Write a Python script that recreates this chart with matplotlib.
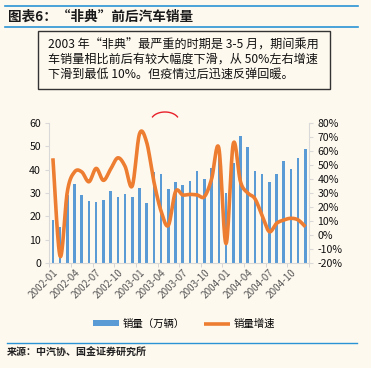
import matplotlib
matplotlib.use('Agg')
import matplotlib.pyplot as plt
import numpy as np
from matplotlib.lines import Line2D
from matplotlib.patches import Rectangle
from matplotlib.ticker import FixedLocator, FuncFormatter

plt.rcParams['font.family'] = ['Noto Sans CJK SC', 'DejaVu Sans']

# ===== 数据 (图中读取) =====
MONTHS = [f'{y}-{m:02d}' for y in (2002, 2003, 2004) for m in range(1, 13)]
SALES = [18.5, 15.6, 29.0, 33.9, 29.2, 26.6, 26.0, 27.0, 30.7, 28.2, 29.4, 28.4,
         32.1, 25.9, 38.8, 38.0, 31.6, 34.7, 33.4, 35.0, 39.4, 35.8, 40.5, 47.0,
         30.2, 43.0, 54.3, 49.6, 39.4, 38.1, 34.6, 38.1, 43.7, 40.4, 45.1, 48.6]
GROWTH = [54.7, -15, 31, 45, 45, 38, 47.5, 39, 47, 55, 49, 35,
          72, 66, 38, 17, 7, 31, 28.6, 29, 28.6, 27.4, 40, 62,
          -6, 65, 38, 30, 26, 14, 2.5, 8.4, 10.8, 12, 10.8, 6]

TITLE = '图表6：“非典”前后汽车销量'
NOTE_LINES = ['2003 年“非典”最严重的时期是 3-5 月，期间乘用',
              '车销量相比前后有较大幅度下滑，从 50%左右增速',
              '下滑到最低 10%。但疫情过后迅速反弹回暖。']
SOURCE = '来源：中汽协、国金证券研究所'

BG = '#FEF9EF'
BLUE = '#5B9BD5'
ORANGE = '#ED7D31'
RULE = '#2A93D5'
W, H = 371, 368


def catmull_rom(x, y, n=16):
    # Excel 平滑线近似
    x = np.asarray(x, float)
    y = np.asarray(y, float)
    px = np.concatenate([[x[0]], x, [x[-1]]])
    py = np.concatenate([[y[0]], y, [y[-1]]])
    t = np.linspace(0, 1, n, endpoint=False)
    xs, ys = [], []
    for i in range(1, len(px) - 2):
        for arr, out in ((px, xs), (py, ys)):
            p0, p1, p2, p3 = arr[i - 1], arr[i], arr[i + 1], arr[i + 2]
            out.extend(0.5 * (2 * p1 + (-p0 + p2) * t
                              + (2 * p0 - 5 * p1 + 4 * p2 - p3) * t ** 2
                              + (-p0 + 3 * p1 - 3 * p2 + p3) * t ** 3))
    xs.append(x[-1])
    ys.append(y[-1])
    return np.array(xs), np.array(ys)


def fx(px):
    return px / W


def fy(py):
    return 1 - py / H


fig = plt.figure(figsize=(W / 100, H / 100), dpi=100, facecolor=BG)

# 标题与分隔线
fig.add_artist(Line2D([fx(5), fx(358)], [fy(6), fy(6)], color=RULE, lw=1.2))
fig.add_artist(Line2D([fx(5), fx(358)], [fy(27.3), fy(27.3)], color=RULE, lw=1.2))
fig.text(fx(8), fy(16.5), TITLE, fontsize=9.8, fontweight='bold', color='#1A1A1A',
         ha='left', va='center')

# 说明框
fig.add_artist(Rectangle((fx(39), fy(90)), fx(292), 57.5 / H, transform=fig.transFigure,
                         facecolor='#9A9A9A', edgecolor='none', zorder=1))
fig.add_artist(Rectangle((fx(37.5), fy(88.5)), fx(292), 57.5 / H, transform=fig.transFigure,
                         facecolor=BG, edgecolor='#333333', lw=1.0, zorder=2))
for k, line in enumerate(NOTE_LINES):
    fig.text(fx(48), fy(45 + 14.5 * k), line, fontsize=8.7, color='#111111',
             ha='left', va='center', zorder=3)

# 主图
ax = fig.add_axes([fx(49.3), fy(263.3), fx(309 - 49.3), (263.3 - 122.7) / H])
ax.set_facecolor(BG)
x = np.arange(len(MONTHS))
ax.bar(x, SALES, width=0.36, color=BLUE, zorder=2, label='销量（万辆）')
ax.set_xlim(-0.5, len(MONTHS) - 0.5)
ax.set_ylim(0, 60)
ax.set_yticks(range(0, 61, 10))

ax2 = ax.twinx()
sx, sy = catmull_rom(x, GROWTH)
ax2.plot(sx, sy, color=ORANGE, lw=2.6, solid_capstyle='butt', zorder=3, label='销量增速')
ax2.set_ylim(-20, 80)
ax2.set_yticks(range(-20, 81, 10))
ax2.yaxis.set_major_formatter(FuncFormatter(lambda v, p: f'{v:.0f}%'))

ax.xaxis.set_major_locator(FixedLocator(x[::3]))
ax.set_xticklabels(MONTHS[::3], rotation=45, ha='right', rotation_mode='anchor',
                   fontsize=7.2, color='#595959')
ax.xaxis.set_minor_locator(FixedLocator(np.arange(-0.5, len(MONTHS), 3)))
ax.tick_params(axis='x', which='major', length=0, pad=3)
ax.tick_params(axis='x', which='minor', length=3, color='#D0D0D0')

for a in (ax, ax2):
    a.spines['top'].set_visible(False)
    for s in ('left', 'right', 'bottom'):
        a.spines[s].set_color('#D9D9D9')
    a.tick_params(axis='y', length=3, color='#D9D9D9', labelsize=7.6, labelcolor='#111111', pad=3)
ax.spines['right'].set_visible(False)
ax2.spines['left'].set_visible(False)
ax2.spines['bottom'].set_visible(False)

# 图例
h1, l1 = ax.get_legend_handles_labels()
h2, l2 = ax2.get_legend_handles_labels()
fig.legend(h1 + h2, l1 + l2, loc='center', bbox_to_anchor=(fx(184), fy(324)), ncol=2,
           frameon=False, fontsize=7.5, handlelength=2.5, handleheight=0.5,
           columnspacing=1.9, handletextpad=0.3)

# 红色弧线标注
t = np.linspace(0.15 * np.pi, 0.85 * np.pi, 30)
fig.add_artist(Line2D(fx(165 + 14 * np.cos(t)), fy(121 - 9 * np.sin(t)), color='#E8202A', lw=1.0))

# 来源
fig.add_artist(Line2D([fx(7), fx(357)], [fy(342.7), fy(342.7)], color=RULE, lw=1.0))
fig.text(fx(7), fy(352), SOURCE, fontsize=7.2, fontweight='bold', color='#222222',
         ha='left', va='center')

fig.savefig('out.png', dpi=100, facecolor=BG)
